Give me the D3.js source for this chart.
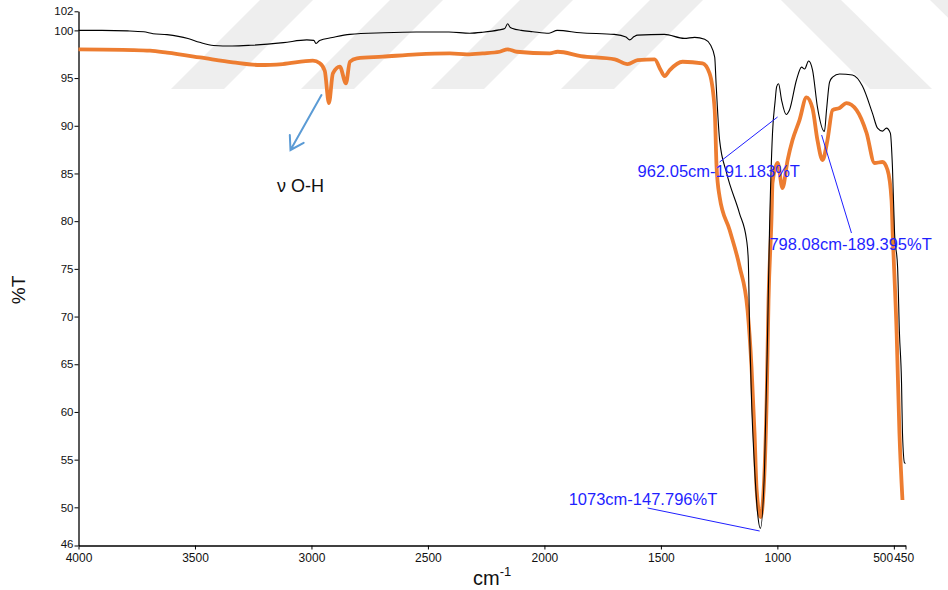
<!DOCTYPE html>
<html>
<head>
<meta charset="utf-8">
<script src="https://cdn.jsdelivr.net/npm/d3@7"></script>
<style>
    body { margin: 0; background: #fff; }
    svg { display: block; font-family: Arial, "Liberation Sans", sans-serif; }
</style>
</head>
<body>
<div id="chartArea"></div>
<script>
// wavenumber (cm-1) / transmittance (%T)
const blackWn = [4000,3900,3790,3720,3680,3620,3530,3480,3420,3340,3260,3120,3020,2990,2980,2965,2910,2835,2690,2550,2410,2320,2265,2195,2170,2158,2148,2136,2100,2050,1980,1945,1845,1700,1650,1634,1615,1600,1485,1400,1355,1312,1287,1269,1263,1259,1248,1218,1163,1132,1125,1119,1111,1098,1085,1073,1055,1042,1034,1021,1010,1003,995,982,962,948,918,896,883,866,849,828,798,789,776,763,733,678,635,592,570,549,532,515,506,497,484,476,467,463,454,450];
const blackT  = [100.0,100.0,99.95,99.85,99.65,99.55,99.15,98.75,98.42,98.36,98.44,98.72,99.0,98.95,98.62,98.95,99.25,99.58,99.75,99.83,99.83,99.7,99.8,100.05,100.2,100.7,100.35,100.2,100.0,99.86,99.7,100.0,99.75,99.58,99.3,99.0,99.35,99.5,99.58,99.16,99.27,99.06,98.46,97.2,94.4,92.6,88.5,85.05,80.85,78.0,76.0,68.3,61.3,54.2,49.4,47.8,54.2,68.3,78.75,89.2,92.5,94.1,94.4,92.7,91.18,91.65,94.8,96.15,95.95,96.79,95.84,91.96,89.4,91.65,94.58,95.1,95.42,95.32,94.16,91.33,89.75,89.44,89.75,89.23,85.66,78.75,75.2,68.27,63.0,57.8,54.65,54.6];

const orangeWn = [4000,3766,3693,3620,3479,3337,3221,3123,2994,2964,2943,2925,2908,2878,2852,2835,2805,2694,2548,2406,2333,2265,2192,2158,2119,1977,1943,1844,1698,1643,1600,1527,1501,1484,1462,1407,1321,1291,1269,1261,1248,1205,1162,1128,1111,1098,1089,1072,1059,1046,1038,1025,1021,999,978,956,935,905,875,849,828,806,785,763,733,703,660,617,583,549,527,510,505,488,476,463];
const orangeT  = [98.0,97.94,97.87,97.66,97.17,96.65,96.37,96.47,96.82,96.55,95.77,92.38,95.5,96.19,94.45,96.71,97.07,97.24,97.49,97.59,97.49,97.59,97.76,98.01,97.76,97.59,97.76,97.31,96.96,96.47,96.89,96.96,95.84,95.21,95.84,96.71,96.55,95.5,91.65,85.7,82.56,79.07,75.22,70.69,64.71,57.79,51.82,48.99,51.82,61.25,71.73,80.43,84.0,86.1,83.47,86.41,88.5,90.6,92.97,91.8,88.5,86.41,88.5,91.65,91.86,92.38,91.65,89.24,86.1,86.2,85.36,82.22,78.75,68.27,57.79,50.77];

const xTicks = [4000,3500,3000,2500,2000,1500,1000,500,450];
const yTicks = [46,50,55,60,65,70,75,80,85,90,95,100,102];

// labelled peaks: text anchor and leader line, in data units
const peakLabels = ["962.05cm-191.183%T", "798.08cm-189.395%T", "1073cm-147.796%T"];
const peakTextWn = [1600, 1034, 1896];
const peakTextT  = [84.63, 76.98, 50.25];
const peakLineFrom = [[1248, 86.2], [682, 78.76], [1557, 49.93]];
const peakLineTo   = [[999, 90.92], [810, 89.03], [1076, 47.52]];

const ohLabel = "ν O-H";
const ohLabelAt = [3148, 83.05];
const ohArrowFrom = [2957, 93.22];
const ohArrowTo = [3090, 87.46];

const svgWidth = 948, svgHeight = 590;
const plotLeft = 78.5, plotRight = 905.5, plotTop = 11.3, plotBottom = 545.5;

const svg = d3
    .select("#chartArea")
    .append("svg")
    .attr("width", svgWidth)
    .attr("height", svgHeight);

// faint watermark stripes behind the plot
const stripes = [
    [[171,89],[224,89],[313,0],[260,0]],
    [[301,89],[354,89],[443,0],[390,0]],
    [[431,89],[484,89],[573,0],[520,0]],
    [[561,89],[614,89],[703,0],[650,0]],
    [[870,89],[932,89],[841,0],[781,0]],
    [[1020,89],[1080,89],[990,0],[930,0]]
];
svg.append("g")
    .selectAll("polygon")
    .data(stripes)
    .join("polygon")
    .attr("points", (d) => d.map((p) => p.join(",")).join(" "))
    .attr("fill", "#eeeeee");

const xScale = d3.scaleLinear().domain([4000, 450]).range([plotLeft, plotRight]);
const yScale = d3.scaleLinear().domain([46, 102]).range([plotBottom, plotTop]);

const xAxis = d3.axisBottom(xScale)
    .tickValues(xTicks)
    .tickSize(4)
    .tickPadding(4)
    .tickSizeOuter(0)
    .tickFormat(d3.format("d"));

const xAxisGroup = svg.append("g")
    .attr("transform", `translate(0,${plotBottom})`)
    .call(xAxis)
    .call((g) => g.select(".domain").attr("stroke-width", 1.3));

xAxisGroup.selectAll("text")
    .style("font-size", "12px")
    .attr("fill", "#111");

// 500 and 450 sit close together: push 500 to the left of its tick
xAxisGroup.selectAll(".tick")
    .filter((d) => d === 500)
    .select("text")
    .attr("text-anchor", "end")
    .attr("dx", "-0.1em");
xAxisGroup.selectAll(".tick")
    .filter((d) => d === 450)
    .select("text")
    .attr("dx", "-0.15em");

const yAxis = d3.axisLeft(yScale)
    .tickValues(yTicks)
    .tickSize(4)
    .tickPadding(1)
    .tickSizeOuter(0)
    .tickFormat(d3.format("d"));

const yAxisGroup = svg.append("g")
    .attr("transform", `translate(${plotLeft},0)`)
    .call(yAxis)
    .call((g) => g.select(".domain").attr("stroke-width", 1.3));

yAxisGroup.selectAll("text")
    .style("font-size", "11.5px")
    .attr("fill", "#111");

// keep the bottom "46" clear of the "4000" below it
yAxisGroup.selectAll(".tick")
    .filter((d) => d === 46)
    .select("text")
    .attr("dy", "0.2em");

const line = d3.line()
    .x((d) => xScale(d[0]))
    .y((d) => yScale(d[1]))
    .curve(d3.curveMonotoneX);

svg.append("path")
    .attr("d", line(orangeWn.map((w, i) => [w, orangeT[i]])))
    .attr("fill", "none")
    .attr("stroke", "#ED7D31")
    .attr("stroke-width", 3.8)
    .attr("stroke-linejoin", "round");

svg.append("path")
    .attr("d", line(blackWn.map((w, i) => [w, blackT[i]])))
    .attr("fill", "none")
    .attr("stroke", "#000")
    .attr("stroke-width", 1.1)
    .attr("stroke-linejoin", "round");

// peak annotations
for (let i = 0; i < peakLabels.length; i++) {
    svg.append("line")
        .attr("x1", xScale(peakLineFrom[i][0]))
        .attr("y1", yScale(peakLineFrom[i][1]))
        .attr("x2", xScale(peakLineTo[i][0]))
        .attr("y2", yScale(peakLineTo[i][1]))
        .attr("stroke", "#1f1fff")
        .attr("stroke-width", 1);

    svg.append("text")
        .attr("x", xScale(peakTextWn[i]))
        .attr("y", yScale(peakTextT[i]))
        .attr("fill", "#1f1fff")
        .style("font-size", "16.5px")
        .text(peakLabels[i]);
}

// O-H stretch arrow
const ax1 = xScale(ohArrowFrom[0]), ay1 = yScale(ohArrowFrom[1]);
const ax2 = xScale(ohArrowTo[0]), ay2 = yScale(ohArrowTo[1]);
const ang = Math.atan2(ay1 - ay2, ax1 - ax2);
const headLen = 15, headAng = 32 * Math.PI / 180;
const arrowPath = d3.path();
arrowPath.moveTo(ax1, ay1);
arrowPath.lineTo(ax2, ay2);
arrowPath.moveTo(ax2 + headLen * Math.cos(ang - headAng), ay2 + headLen * Math.sin(ang - headAng));
arrowPath.lineTo(ax2, ay2);
arrowPath.lineTo(ax2 + headLen * Math.cos(ang + headAng), ay2 + headLen * Math.sin(ang + headAng));

svg.append("path")
    .attr("d", arrowPath.toString())
    .attr("fill", "none")
    .attr("stroke", "#5B9BD5")
    .attr("stroke-width", 2)
    .attr("stroke-linecap", "round");

svg.append("text")
    .attr("x", xScale(ohLabelAt[0]))
    .attr("y", yScale(ohLabelAt[1]))
    .attr("fill", "#111")
    .style("font-size", "18px")
    .text(ohLabel);

// axis titles
svg.append("text")
    .attr("transform", "translate(25,290) rotate(-90)")
    .attr("text-anchor", "middle")
    .style("font-size", "19px")
    .attr("fill", "#111")
    .text("%T");

const xTitle = svg.append("text")
    .attr("x", 473)
    .attr("y", 585)
    .style("font-size", "20px")
    .attr("fill", "#111");
xTitle.append("tspan").text("cm");
xTitle.append("tspan")
    .attr("dy", -9)
    .style("font-size", "13px")
    .text("-1");
</script>
</body>
</html>
